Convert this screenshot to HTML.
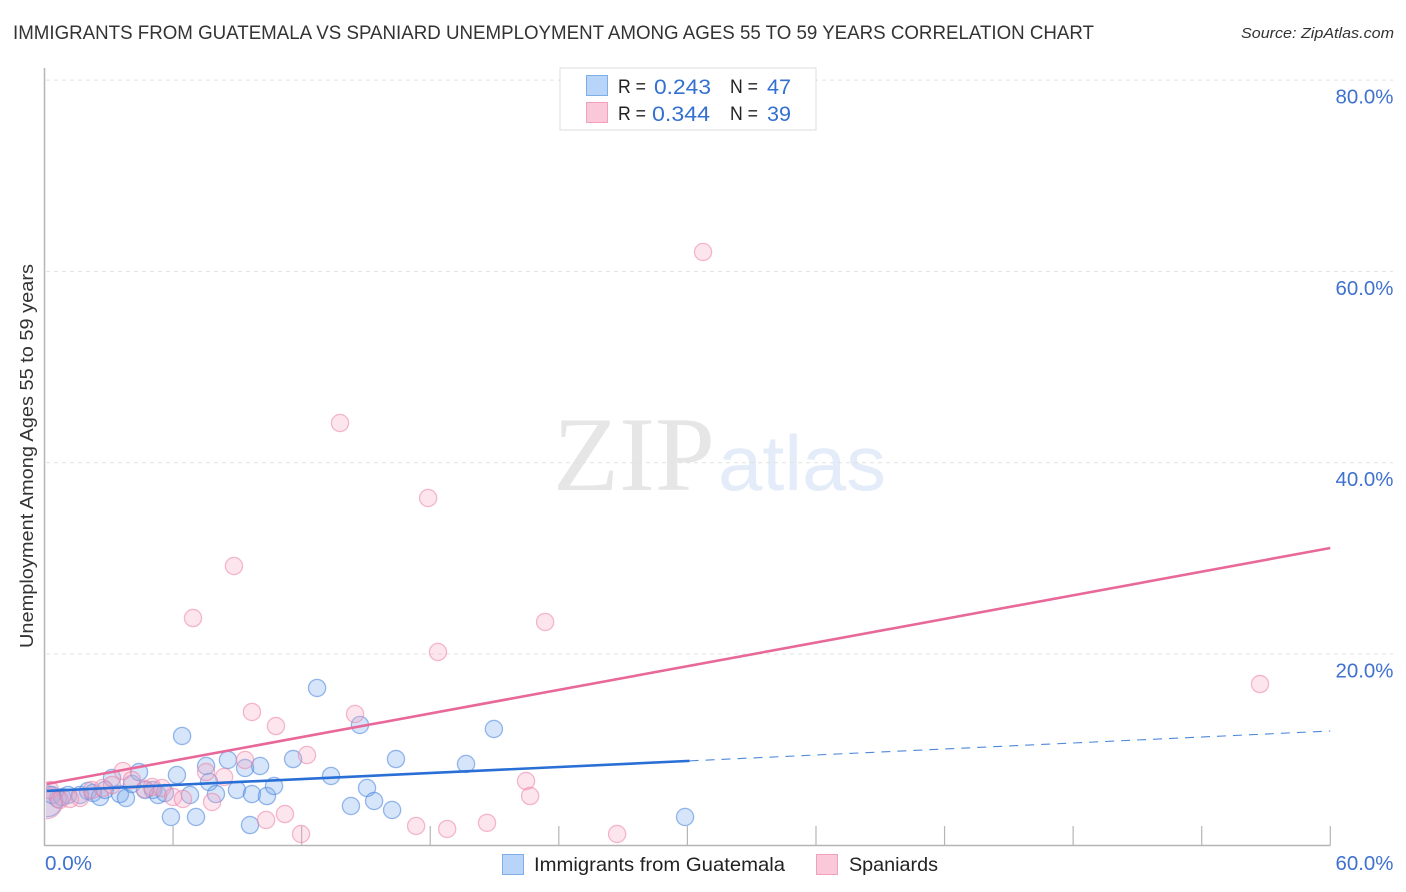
<!DOCTYPE html>
<html lang="en">
<head>
<meta charset="utf-8">
<title>Immigrants from Guatemala vs Spaniard Unemployment Correlation Chart</title>
<style>
html,body{margin:0;padding:0;background:#fff;width:1406px;height:892px;overflow:hidden}
svg{display:block;font-family:"Liberation Sans",sans-serif}
</style>
</head>
<body>
<svg id="chart" width="1406" height="892" viewBox="0 0 1406 892">
<defs><clipPath id="plot-clip"><rect x="46" y="68" width="1300" height="777"/></clipPath></defs>
<text x="553" y="490" font-family="'Liberation Serif',serif" font-size="106" fill="#e6e6e6" textLength="162" lengthAdjust="spacingAndGlyphs">ZIP</text>
<text x="718" y="490" font-size="78" fill="#e3ecf8" textLength="168" lengthAdjust="spacingAndGlyphs">atlas</text>
<g id="grid"></g>
<g id="axes"></g>
<g id="points" clip-path="url(#plot-clip)"></g>
<g id="lines"></g>
<text x="13" y="39" font-size="19.5" fill="#333" textLength="1081" lengthAdjust="spacingAndGlyphs">IMMIGRANTS FROM GUATEMALA VS SPANIARD UNEMPLOYMENT AMONG AGES 55 TO 59 YEARS CORRELATION CHART</text>
<text x="1241" y="38" font-size="15" font-style="italic" fill="#333" textLength="153" lengthAdjust="spacingAndGlyphs">Source: ZipAtlas.com</text>
<text transform="translate(33,648) rotate(-90)" font-size="18" fill="#333" textLength="384" lengthAdjust="spacingAndGlyphs">Unemployment Among Ages 55 to 59 years</text>
<g>
<rect x="560" y="68" width="256" height="62" fill="#fff" stroke="#ddd"/>
<rect x="586.5" y="75.5" width="21" height="20" fill="#b8d4f8" stroke="#7eaee6"/>
<rect x="586.5" y="102.5" width="21" height="20" fill="#fbc8d9" stroke="#f2a0bc"/>
<g font-size="19.5" fill="#222">
<text x="618" y="93" textLength="28" lengthAdjust="spacingAndGlyphs">R =</text><text x="730" y="93" textLength="28" lengthAdjust="spacingAndGlyphs">N =</text>
<text x="618" y="120" textLength="28" lengthAdjust="spacingAndGlyphs">R =</text><text x="730" y="120" textLength="28" lengthAdjust="spacingAndGlyphs">N =</text>
</g>
<g font-size="21" fill="#3370d0">
<text x="654" y="94" textLength="57" lengthAdjust="spacingAndGlyphs">0.243</text>
<text x="767" y="94" textLength="24" lengthAdjust="spacingAndGlyphs">47</text>
<text x="652" y="121" textLength="58" lengthAdjust="spacingAndGlyphs">0.344</text>
<text x="767" y="121" textLength="24" lengthAdjust="spacingAndGlyphs">39</text>
</g>
</g>
<g>
<rect x="502.5" y="854.5" width="21" height="20" fill="#b8d4f8" stroke="#7eaee6"/>
<text x="534" y="871" font-size="19.5" fill="#222" textLength="251" lengthAdjust="spacingAndGlyphs">Immigrants from Guatemala</text>
<rect x="816.5" y="854.5" width="21" height="20" fill="#fbc8d9" stroke="#f2a0bc"/>
<text x="849" y="871" font-size="19.5" fill="#222" textLength="89" lengthAdjust="spacingAndGlyphs">Spaniards</text>
</g>
</svg>
<script>
const guatemalaX = [0.12,0.35,0.63,0.82,1.10,1.66,2.03,2.26,2.59,2.82,3.15,3.52,3.80,4.08,4.41,4.69,5.06,5.30,5.62,5.90,6.18,6.42,6.79,7.07,7.54,7.68,8.00,8.56,8.98,9.36,9.59,9.68,10.06,10.38,10.71,11.60,12.72,13.37,14.30,14.72,15.05,15.38,16.22,16.40,19.67,20.97,29.89];
const guatemalaY = [4.6,5.26,4.84,5.05,5.26,5.26,5.68,5.47,5.05,5.78,7.04,5.36,4.95,6.41,7.66,5.78,5.78,5.26,5.47,2.96,7.35,11.43,5.26,2.96,8.29,6.62,5.36,8.92,5.78,8.08,2.12,5.36,8.29,5.15,6.20,9.02,16.45,7.25,4.11,12.58,5.99,4.63,3.69,9.02,8.50,12.16,2.96];
const spaniardsX = [0.10,0.26,0.72,1.19,1.66,2.22,2.73,3.15,3.66,4.08,4.69,5.02,5.48,6.00,6.46,6.93,7.54,7.82,8.38,8.84,9.36,9.68,10.34,10.80,11.22,11.97,12.25,13.79,14.49,17.34,17.90,18.36,18.79,20.65,22.47,22.66,23.36,26.72,30.73,56.72];
const spaniardsY = [4.4,5.78,4.74,4.84,4.95,5.78,5.99,6.30,7.77,6.83,5.89,6.10,5.99,5.05,4.84,23.76,7.66,4.53,7.14,29.20,8.92,13.94,2.65,12.47,3.27,1.18,9.44,44.15,13.73,2.02,36.31,20.21,1.71,2.35,6.72,5.15,23.35,1.18,62.03,16.86];
const yTickValues = [20,40,60,80];
const yTickLabels = ['20.0%','40.0%','60.0%','80.0%'];
const xTickValues = [6,12,18,24,30,36,42,48,54,60];
const xEndValues = [0,60];
const xEndLabels = ['0.0%','60.0%'];
const guatemalaTrend = [5.68,11.95];
const spaniardsTrend = [6.41,31.08];
const guatemalaSolidEnd = 30.1;

const NS = 'http://www.w3.org/2000/svg';
const sx = v => 44.5 + v * 21.43;
const sy = v => 845.3 - (v / 80) * 765.2;
function make(tag, attrs, parent) {
  const el = document.createElementNS(NS, tag);
  for (const k in attrs) el.setAttribute(k, attrs[k]);
  parent.appendChild(el);
  return el;
}
const grid = document.getElementById('grid');
const axes = document.getElementById('axes');
const pts = document.getElementById('points');
const lines = document.getElementById('lines');

yTickValues.forEach((v, i) => {
  const g = make('line', {x1: 46, x2: 1393, y1: sy(v), y2: sy(v), stroke: '#e2e2e2', 'stroke-dasharray': '4 4'}, grid);
  
  
  const t = make('text', {x: 1393.5, y: sy(v) + 23.5, 'text-anchor': 'end', 'font-size': 20, fill: '#3f72cf', textLength: 58, lengthAdjust: 'spacingAndGlyphs'}, axes);
  t.textContent = yTickLabels[i];
  
  
});
const yAxis = make('line', {x1: 44.5, x2: 44.5, y1: 68, y2: 846, stroke: '#b5b5b5', 'stroke-width': 1.5}, axes);


const xAxis = make('line', {x1: 44, x2: 1330.5, y1: 845.5, y2: 845.5, stroke: '#b5b5b5', 'stroke-width': 1.5}, axes);


xTickValues.forEach(v => {
  const t = make('line', {x1: sx(v), x2: sx(v), y1: 826, y2: 845, stroke: '#b5b5b5', 'stroke-width': 1.2}, axes);
  
  
});
xEndValues.forEach((v, i) => {
  const t = make('text', {x: i === 0 ? 45 : 1393.5, y: 870, 'text-anchor': i === 0 ? 'start' : 'end', 'font-size': 20, fill: '#3f72cf', textLength: i === 0 ? 47 : 58, lengthAdjust: 'spacingAndGlyphs'}, axes);
  t.textContent = xEndLabels[i];
  
  
});

guatemalaX.forEach((x, i) => {
  const c = make('circle', {cx: sx(x), cy: sy(guatemalaY[i]), r: i === 0 ? 15.5 : 8.6, fill: 'rgba(120,170,235,0.3)', stroke: 'rgba(70,130,220,0.55)', 'stroke-width': 1.3}, pts);
  
  
});
spaniardsX.forEach((x, i) => {
  const c = make('circle', {cx: sx(x), cy: sy(spaniardsY[i]), r: i === 0 ? 15.5 : 8.6, fill: 'rgba(248,170,195,0.3)', stroke: 'rgba(235,130,165,0.55)', 'stroke-width': 1.3}, pts);
  
  
});

const trendAt = (tr, x) => tr[0] + (tr[1] - tr[0]) * x / 60;
const pinkLine = make('line', {x1: sx(0.1), y1: sy(trendAt(spaniardsTrend, 0)), x2: sx(60), y2: sy(trendAt(spaniardsTrend, 60)), stroke: '#e8689a', 'stroke-width': 2.6}, lines);


const blueLine = make('line', {x1: sx(0.1), y1: sy(trendAt(guatemalaTrend, 0)), x2: sx(guatemalaSolidEnd), y2: sy(trendAt(guatemalaTrend, guatemalaSolidEnd)), stroke: '#2a6fd6', 'stroke-width': 2.6}, lines);


const blueDash = make('line', {x1: sx(guatemalaSolidEnd), y1: sy(trendAt(guatemalaTrend, guatemalaSolidEnd)), x2: sx(60), y2: sy(trendAt(guatemalaTrend, 60)), stroke: '#4f88dc', 'stroke-width': 1.1, 'stroke-dasharray': '9 7'}, lines);


</script>
</body>
</html>
